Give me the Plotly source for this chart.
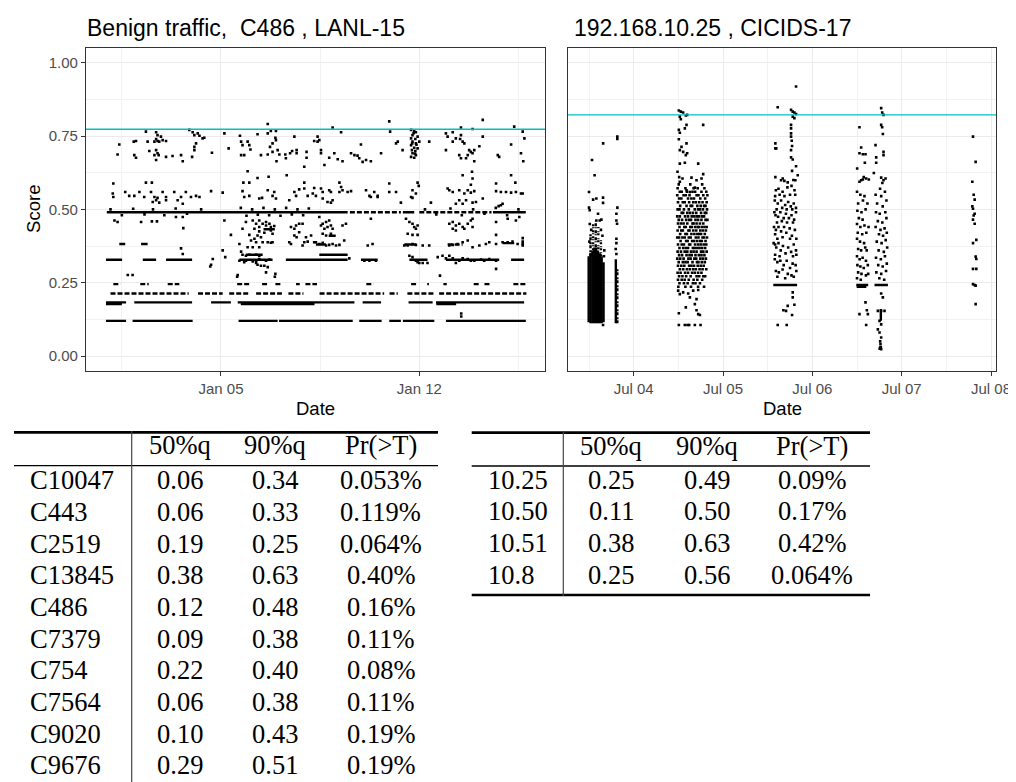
import plotly.graph_objects as go
import pandas as pd

W, H = 1016, 782
PAGE_MARGIN = 8  # default body margin of the html page

# ---------------- DATA ----------------
LANL_START = pd.Timestamp("2015-01-01")   # day offsets below are days since this
CIC_START = pd.Timestamp("2017-07-03")    # hour offsets below are hours since this

lanl_title = "Benign traffic,\u00a0 C486 , LANL-15"
cic_title = "192.168.10.25 , CICIDS-17"
lanl_threshold = 0.773
cic_threshold = 0.822

score_ticks = [0.0, 0.25, 0.5, 0.75, 1.0]
score_ticktext = ["0.00", "0.25", "0.50", "0.75", "1.00"]
lanl_tick_days = [4, 11]
lanl_ticktext = ["Jan 05", "Jan 12"]
cic_tick_hours = [24, 48, 72, 96, 120]
cic_ticktext = ["Jul 04", "Jul 05", "Jul 06", "Jul 07", "Jul 08"]

# dense horizontal runs of points: (start day, end day, score)
lanl_solid_runs = [
    (-0.06, 0.65, 0.12), (0.88, 3.0, 0.12), (4.62, 6.0, 0.12), (6.05, 8.65, 0.12),
    (8.88, 9.67, 0.12), (9.94, 10.35, 0.12), (10.42, 11.53, 0.12), (11.94, 14.76, 0.12),
    (-0.06, 0.65, 0.183), (0.94, 2.98, 0.183), (3.65, 4.35, 0.183), (4.59, 8.71, 0.183),
    (9.0, 9.65, 0.183), (10.62, 11.47, 0.183), (11.59, 14.70, 0.183),
    (-0.06, 0.5, 0.177), (4.7, 7.3, 0.177), (11.6, 12.3, 0.177),
    (-0.06, 0.51, 0.328), (1.24, 1.71, 0.328), (2.06, 2.98, 0.328), (4.65, 5.82, 0.328),
    (6.29, 8.47, 0.328), (8.94, 9.53, 0.328), (10.65, 11.29, 0.328), (11.94, 13.82, 0.328),
    (14.24, 14.70, 0.328),
    (4.88, 5.47, 0.345), (7.47, 8.47, 0.345),
    (0.41, 0.62, 0.382), (1.18, 1.41, 0.382), (7.35, 7.71, 0.38), (10.47, 10.88, 0.38),
    (13.94, 14.35, 0.385), (5.5, 5.9, 0.432), (7.8, 8.05, 0.41),
    (-0.03, 8.47, 0.49), (10.42, 10.82, 0.49), (13.6, 14.76, 0.49),
]
lanl_dashed_runs = [
    (0.10, 2.86, 0.213), (3.19, 4.06, 0.213), (4.29, 5.01, 0.213), (5.24, 6.15, 0.213),
    (6.38, 6.91, 0.213), (7.48, 9.76, 0.213), (9.95, 10.24, 0.213), (10.58, 11.53, 0.213),
    (11.70, 14.78, 0.213),
    (0.20, 0.45, 0.245), (1.15, 1.45, 0.245), (2.12, 2.53, 0.245), (4.57, 5.0, 0.245),
    (5.45, 5.65, 0.245), (5.92, 6.12, 0.245), (6.65, 6.78, 0.245), (6.98, 7.39, 0.245),
    (9.13, 9.38, 0.245), (10.71, 10.90, 0.245), (11.28, 11.34, 0.245), (11.85, 11.97, 0.245),
    (12.92, 13.11, 0.245), (13.30, 13.49, 0.245), (14.32, 14.76, 0.245),
    (8.55, 10.35, 0.49), (11.0, 13.55, 0.49), (12.0, 12.53, 0.38),
]
# individual points: (day, score)
lanl_points_high = [
    (5.65, 0.791), (1.35, 0.765), (1.71, 0.763), (1.76, 0.753), (1.88, 0.748), (1.71, 0.74),
    (1.76, 0.733), (1.65, 0.731), (1.82, 0.731), (1.94, 0.736), (2.06, 0.733), (1.0, 0.733),
    (0.92, 0.731), (0.41, 0.721), (1.41, 0.731), (1.47, 0.699), (1.71, 0.702), (1.76, 0.691),
    (1.65, 0.685), (1.80, 0.685), (1.71, 0.668), (0.35, 0.687), (0.94, 0.685), (1.0, 0.676),
    (2.06, 0.679), (2.29, 0.682), (2.59, 0.685), (2.65, 0.664), (2.88, 0.771), (3.0, 0.763),
    (3.06, 0.753), (3.18, 0.759), (3.24, 0.751), (3.35, 0.742), (3.41, 0.744), (3.12, 0.725),
    (3.06, 0.713), (2.98, 0.679), (3.06, 0.702), (3.68, 0.693), (4.12, 0.759), (4.27, 0.708),
    (4.67, 0.751), (4.71, 0.731), (4.76, 0.719), (4.94, 0.731), (5.0, 0.719), (5.04, 0.704),
    (4.71, 0.685), (4.82, 0.685), (5.29, 0.756), (5.65, 0.759), (5.76, 0.767), (5.94, 0.767),
    (5.92, 0.744), (5.94, 0.736), (5.82, 0.725), (5.73, 0.713), (5.82, 0.696), (5.65, 0.687),
    (5.41, 0.685), (6.0, 0.702), (6.06, 0.687), (5.96, 0.664), (6.27, 0.687), (6.44, 0.691),
    (6.51, 0.699), (6.29, 0.674), (6.67, 0.702), (6.67, 0.691), (7.02, 0.696), (6.59, 0.748),
    (7.02, 0.676), (6.94, 0.645), (7.29, 0.733),
    (7.94, 0.779), (8.24, 0.763), (9.94, 0.80), (9.97, 0.765), (7.41, 0.748), (7.47, 0.736),
    (7.41, 0.731), (7.53, 0.702), (7.53, 0.691), (7.65, 0.651), (7.82, 0.676), (8.0, 0.691),
    (8.12, 0.671), (8.29, 0.664), (8.59, 0.691), (8.71, 0.685), (8.82, 0.683), (8.88, 0.674),
    (9.0, 0.662), (9.12, 0.668), (9.29, 0.664), (9.65, 0.691), (8.94, 0.721), (10.18, 0.725),
    (10.24, 0.731), (10.41, 0.702), (10.71, 0.771), (10.82, 0.767), (10.88, 0.763),
    (10.76, 0.753), (10.71, 0.742), (10.86, 0.74), (10.76, 0.731), (10.88, 0.725),
    (10.71, 0.719), (10.82, 0.71), (10.94, 0.708), (10.74, 0.702), (10.86, 0.699),
    (10.76, 0.691), (10.88, 0.685), (10.71, 0.679), (10.82, 0.676), (10.94, 0.748),
    (11.0, 0.731), (10.8, 0.76), (10.9, 0.72), (10.75, 0.725), (10.85, 0.69), (11.35, 0.731),
    (11.94, 0.759), (12.0, 0.748), (12.18, 0.763), (12.18, 0.731), (12.29, 0.742),
    (12.47, 0.779), (12.47, 0.753), (12.53, 0.731), (12.44, 0.74), (12.59, 0.725),
    (12.88, 0.774), (13.24, 0.805), (13.24, 0.748), (13.12, 0.715), (12.76, 0.702),
    (12.82, 0.696), (12.88, 0.691), (12.94, 0.702), (12.71, 0.685), (11.94, 0.702),
    (12.41, 0.685), (12.47, 0.674), (12.65, 0.674), (12.94, 0.664), (13.77, 0.685),
    (13.82, 0.679), (14.24, 0.721), (14.35, 0.782), (14.65, 0.765), (14.71, 0.742),
    (14.59, 0.691), (14.67, 0.664),
]
lanl_points_mid = [
    (4.94, 0.63), (5.29, 0.607), (5.68, 0.611), (6.32, 0.616), (0.2, 0.588), (1.35, 0.591),
    (1.56, 0.591), (4.79, 0.591), (5.0, 0.591), (6.94, 0.591), (7.29, 0.573), (0.18, 0.554),
    (0.2, 0.542), (0.62, 0.559), (0.76, 0.546), (0.94, 0.546), (1.12, 0.559), (1.29, 0.542),
    (1.53, 0.559), (1.65, 0.542), (1.76, 0.539), (1.94, 0.559), (2.06, 0.542), (2.35, 0.559),
    (2.59, 0.542), (2.76, 0.559), (2.94, 0.542), (3.12, 0.546), (3.24, 0.542), (3.65, 0.562),
    (4.06, 0.557), (4.76, 0.562), (4.82, 0.542), (5.0, 0.546), (5.35, 0.537), (5.45, 0.539),
    (5.65, 0.565), (5.82, 0.546), (5.94, 0.537), (5.88, 0.559), (6.41, 0.531), (6.59, 0.559),
    (6.65, 0.546), (6.76, 0.568), (6.94, 0.571), (7.06, 0.546), (7.24, 0.554), (7.35, 0.546),
    (1.59, 0.525), (1.71, 0.531), (1.82, 0.523), (2.06, 0.531), (2.47, 0.531), (2.65, 0.519),
    (8.18, 0.591), (8.24, 0.576), (9.94, 0.588), (10.94, 0.591), (10.98, 0.58), (12.53, 0.616),
    (12.86, 0.628), (12.88, 0.605), (12.82, 0.584), (14.24, 0.616), (14.39, 0.591),
    (13.71, 0.588), (13.24, 0.537), (7.53, 0.571), (7.59, 0.559), (7.82, 0.565), (7.88, 0.559),
    (8.18, 0.559), (8.29, 0.565), (8.47, 0.559), (8.59, 0.562), (9.12, 0.565), (9.24, 0.546),
    (9.41, 0.559), (9.53, 0.546), (9.94, 0.559), (10.18, 0.559), (10.76, 0.565),
    (10.88, 0.554), (12.0, 0.571), (12.06, 0.565), (12.18, 0.559), (12.41, 0.565),
    (12.59, 0.554), (12.71, 0.565), (12.82, 0.557), (12.94, 0.562), (13.71, 0.562),
    (13.88, 0.559), (14.06, 0.559), (14.24, 0.557), (14.41, 0.559), (14.59, 0.554),
    (14.65, 0.554), (7.59, 0.537), (7.76, 0.525), (7.88, 0.523), (7.94, 0.531), (9.29, 0.542),
    (9.53, 0.542), (10.35, 0.523), (10.71, 0.542), (10.76, 0.539), (11.41, 0.523),
    (12.29, 0.519), (12.41, 0.531), (12.53, 0.519), (12.65, 0.531), (12.88, 0.523),
    (13.0, 0.525), (13.94, 0.519), (13.88, 0.514), (13.8, 0.511),
    (0.1, 0.50), (0.5, 0.48), (0.9, 0.502), (1.3, 0.483), (1.6, 0.50), (2.0, 0.48),
    (2.4, 0.503), (2.8, 0.485), (3.3, 0.50), (4.7, 0.505), (4.9, 0.478), (5.1, 0.50),
    (5.3, 0.482), (5.5, 0.505), (5.7, 0.48), (5.9, 0.50), (6.1, 0.478), (6.3, 0.505),
    (6.5, 0.483), (6.7, 0.50), (6.9, 0.48), (7.1, 0.503), (11.2, 0.50), (11.6, 0.483),
    (12.1, 0.503), (12.5, 0.48), (12.9, 0.50), (13.3, 0.485), (13.7, 0.505), (14.1, 0.48),
    (14.5, 0.50),
]
lanl_points_low = [
    (0.24, 0.462), (0.35, 0.457), (1.18, 0.457), (1.56, 0.459), (1.74, 0.459), (2.41, 0.474),
    (2.65, 0.474), (2.67, 0.436), (4.12, 0.462), (4.35, 0.413), (4.88, 0.457), (5.12, 0.462),
    (5.24, 0.451), (5.35, 0.462), (5.35, 0.44), (5.47, 0.451), (5.59, 0.457), (5.71, 0.451),
    (4.76, 0.434), (5.59, 0.445), (5.76, 0.44), (5.88, 0.443), (5.18, 0.434), (5.35, 0.425),
    (5.53, 0.42), (5.76, 0.428), (5.82, 0.417), (6.47, 0.44), (6.59, 0.434), (6.65, 0.445),
    (6.76, 0.451), (6.88, 0.451), (6.76, 0.422), (6.59, 0.411), (6.67, 0.405), (7.0, 0.405),
    (7.18, 0.411), (5.0, 0.413), (5.06, 0.394), (5.18, 0.40), (5.24, 0.388), (5.35, 0.371),
    (5.12, 0.371), (4.94, 0.371), (5.29, 0.411), (5.41, 0.405), (4.65, 0.382), (4.71, 0.356),
    (5.47, 0.388), (5.65, 0.388), (5.76, 0.386), (5.82, 0.388), (6.41, 0.388), (6.47, 0.382),
    (6.88, 0.377), (6.94, 0.388), (7.06, 0.39), (7.29, 0.388), (4.76, 0.345), (4.88, 0.342),
    (5.0, 0.345), (5.24, 0.345), (5.35, 0.342), (4.65, 0.325), (4.82, 0.32), (4.88, 0.325),
    (5.12, 0.322), (5.24, 0.325), (5.35, 0.331), (5.59, 0.325), (5.71, 0.329), (4.15, 0.337),
    (3.71, 0.331), (3.65, 0.311), (2.59, 0.367), (2.65, 0.348), (5.24, 0.317), (5.29, 0.311),
    (5.41, 0.308), (5.53, 0.308), (5.59, 0.285), (5.65, 0.303), (5.92, 0.28), (4.59, 0.276),
    (0.71, 0.276), (0.88, 0.276), (3.62, 0.305), (4.06, 0.36), (12.48, 0.145), (12.48, 0.135),
    (4.57, 0.27), (5.9, 0.27),
    (7.47, 0.474), (7.59, 0.451), (7.71, 0.457), (7.82, 0.462), (7.88, 0.445), (7.76, 0.44),
    (7.65, 0.434), (7.53, 0.445), (7.94, 0.434), (8.29, 0.445), (8.41, 0.451), (7.59, 0.417),
    (7.71, 0.411), (7.88, 0.417), (9.29, 0.468), (10.53, 0.468), (10.65, 0.457),
    (10.76, 0.451), (10.82, 0.44), (10.88, 0.434), (10.94, 0.445), (10.59, 0.417),
    (10.76, 0.413), (10.94, 0.413), (12.06, 0.451), (12.18, 0.457), (12.29, 0.445),
    (12.41, 0.451), (12.53, 0.44), (12.59, 0.434), (12.71, 0.451), (12.82, 0.462),
    (12.88, 0.44), (12.18, 0.434), (12.29, 0.428), (12.88, 0.468), (13.71, 0.457),
    (14.12, 0.468), (14.41, 0.462), (14.53, 0.474), (13.71, 0.413), (14.65, 0.402),
    (14.65, 0.39), (14.65, 0.377), (7.35, 0.388), (7.47, 0.382), (7.59, 0.386), (7.71, 0.377),
    (7.82, 0.379), (7.94, 0.382), (8.06, 0.377), (8.18, 0.379), (8.35, 0.394), (9.18, 0.377),
    (9.35, 0.382), (10.47, 0.377), (10.59, 0.377), (10.76, 0.382), (10.88, 0.379),
    (11.12, 0.377), (11.35, 0.377), (12.06, 0.377), (12.18, 0.379), (12.35, 0.382),
    (12.53, 0.388), (12.71, 0.394), (12.88, 0.371), (13.12, 0.377), (13.35, 0.382),
    (13.47, 0.388), (13.71, 0.382), (13.94, 0.388), (14.12, 0.388), (14.29, 0.39),
    (14.47, 0.382), (14.65, 0.382), (8.53, 0.333), (9.06, 0.325), (9.24, 0.325),
    (9.47, 0.325), (10.65, 0.342), (10.76, 0.337), (10.88, 0.325), (10.94, 0.32),
    (11.0, 0.317), (11.12, 0.317), (11.29, 0.317), (11.65, 0.337), (11.82, 0.342),
    (11.94, 0.333), (12.06, 0.342), (12.18, 0.333), (12.29, 0.317), (12.41, 0.325),
    (12.53, 0.333), (12.71, 0.331), (12.82, 0.325), (12.94, 0.325), (13.18, 0.329),
    (13.29, 0.325), (13.47, 0.331), (13.71, 0.325), (13.71, 0.297), (11.73, 0.274),
]

# CICIDS: dense vertical runs (hour, low score, high score)
cic_solid_vruns = [
    (11.9, 0.115, 0.34), (12.4, 0.112, 0.35), (12.9, 0.112, 0.36), (13.4, 0.112, 0.37),
    (13.9, 0.112, 0.37), (14.4, 0.112, 0.36), (14.9, 0.112, 0.35), (15.4, 0.112, 0.34),
    (15.9, 0.115, 0.32), (19.2, 0.112, 0.33), (90.4, 0.12, 0.16),
]
cic_dotted_vruns = [
    (12.4, 0.34, 0.42), (13.1, 0.34, 0.45), (13.8, 0.34, 0.46), (14.5, 0.34, 0.44),
    (15.2, 0.33, 0.40), (19.6, 0.112, 0.30),
]
# CICIDS: dense horizontal runs (start hour, end hour, score)
cic_hruns = [(61.5, 67.9, 0.242), (83.8, 87.0, 0.242), (83.9, 86.5, 0.236), (88.7, 92.3, 0.242)]
# CICIDS Tuesday core, read row by row: score -> hours of the points on that row
cic_tue_core_rows = {
    0.585: [36.1, 39.2, 42.4],
    0.572: [35.8, 37.9, 40.1, 41.2, 43.0],
    0.56: [36.4, 36.9, 38.3, 39.8, 40.5, 42.2, 43.5],
    0.548: [35.7, 37.4, 38.0, 39.0, 40.9, 41.4, 42.7, 43.8],
    0.537: [36.2, 36.8, 38.6, 39.5, 40.2, 41.9, 43.2],
    0.524: [35.9, 37.2, 37.7, 38.9, 40.0, 40.7, 41.6, 42.5, 43.6],
    0.512: [36.5, 38.2, 39.3, 39.7, 41.1, 42.0, 42.9, 43.3],
    0.50: [35.8, 36.3, 37.5, 38.8, 40.4, 41.3, 41.8, 42.6, 43.7],
    0.488: [36.9, 37.3, 38.4, 39.1, 39.9, 40.8, 42.1, 43.1, 43.5],
    0.476: [35.7, 36.4, 37.8, 38.6, 39.6, 40.3, 41.0, 41.6, 42.4, 42.9],
    0.464: [36.1, 37.0, 38.1, 38.9, 39.4, 40.6, 41.3, 42.2, 43.3, 43.8],
    0.452: [35.9, 36.7, 37.4, 38.4, 39.8, 40.1, 40.9, 41.8, 42.7],
    0.44: [36.3, 37.6, 38.0, 39.2, 39.6, 40.5, 41.2, 41.5, 42.3, 43.0, 43.6],
    0.428: [35.8, 36.8, 37.2, 38.7, 39.0, 40.0, 40.8, 41.9, 42.6, 43.4],
    0.416: [36.5, 37.9, 38.3, 39.5, 40.3, 41.1, 41.6, 42.1, 43.1],
    0.404: [35.7, 36.2, 37.1, 37.7, 38.8, 39.3, 40.7, 41.4, 42.5, 42.9, 43.7],
    0.392: [36.6, 38.1, 38.5, 39.7, 40.2, 41.0, 41.8, 42.3, 43.3],
    0.38: [35.9, 36.9, 37.5, 38.9, 39.2, 40.5, 41.3, 42.0, 42.8, 43.5],
    0.368: [36.3, 37.3, 38.0, 38.6, 39.9, 40.4, 41.1, 41.7, 42.4, 43.2],
    0.356: [35.8, 36.7, 37.7, 38.4, 39.4, 40.1, 40.9, 42.1, 42.7, 43.6],
    0.344: [36.2, 37.0, 38.2, 39.0, 39.6, 40.6, 41.5, 42.2, 43.0],
    0.332: [35.7, 36.5, 37.4, 38.7, 39.3, 40.3, 40.8, 41.9, 42.6, 43.4],
    0.32: [36.1, 37.2, 37.9, 38.5, 39.8, 41.0, 41.4, 42.3, 43.1],
    0.308: [35.9, 36.8, 37.6, 38.9, 39.5, 40.2, 41.2, 42.0, 42.8],
    0.296: [36.4, 37.3, 38.3, 39.1, 40.0, 40.7, 41.7, 42.5, 43.5],
    0.284: [35.8, 36.6, 37.8, 38.6, 39.7, 40.4, 41.3, 42.2],
    0.272: [36.2, 37.1, 38.1, 39.3, 40.9, 41.6, 42.7, 43.2],
    0.26: [35.9, 36.9, 37.7, 38.8, 40.1, 41.1, 42.4],
    0.248: [36.3, 37.5, 38.5, 39.9, 40.6, 41.8],
    0.236: [36.0, 37.9, 39.4, 41.3, 42.9],
}
# CICIDS individual points: (hour, score)
cic_points_mon_tue = [
    (15.8, 0.725), (19.6, 0.748), (19.6, 0.74), (12.8, 0.668), (13.5, 0.616), (12.0, 0.559),
    (13.1, 0.533), (13.97, 0.537), (15.77, 0.54), (15.77, 0.522), (12.0, 0.506), (12.18, 0.497),
    (14.42, 0.485), (15.32, 0.465), (14.87, 0.462), (13.97, 0.462), (19.62, 0.506),
    (19.35, 0.485), (19.35, 0.462), (19.53, 0.451), (19.35, 0.40), (19.35, 0.385),
    (19.17, 0.365), (19.35, 0.348), (15.77, 0.106), (12.2, 0.45), (12.6, 0.43), (15.2, 0.43),
    (15.6, 0.41), (12.1, 0.39), (16.1, 0.36), (16.0, 0.34),
    (36.13, 0.837), (36.66, 0.833), (37.29, 0.83), (38.0, 0.82), (38.37, 0.822), (36.39, 0.816),
    (36.66, 0.807), (42.67, 0.788), (38.19, 0.788), (37.74, 0.776), (36.13, 0.771),
    (36.39, 0.761), (36.13, 0.739), (38.19, 0.725), (36.84, 0.713), (36.39, 0.702),
    (37.29, 0.696), (38.0, 0.685), (38.37, 0.691), (36.39, 0.656), (37.74, 0.659),
    (41.33, 0.656), (35.77, 0.628), (36.22, 0.61), (36.39, 0.594), (37.11, 0.605),
    (39.53, 0.608), (40.88, 0.599), (42.22, 0.605), (42.67, 0.62), (38.19, 0.565),
    (39.09, 0.559), (40.43, 0.574), (35.95, 0.223), (36.39, 0.211), (37.29, 0.217),
    (38.64, 0.213), (39.98, 0.223), (41.33, 0.225), (39.09, 0.20), (40.88, 0.194),
    (40.43, 0.177), (38.0, 0.166), (40.88, 0.156), (41.33, 0.143), (36.13, 0.146),
    (41.78, 0.14), (36.13, 0.106), (37.74, 0.106), (38.46, 0.106), (38.91, 0.106),
    (40.43, 0.106), (41.96, 0.106),
]
cic_points_wed = [
    (67.62, 0.919), (62.69, 0.848), (66.28, 0.839), (66.73, 0.833), (67.17, 0.83), (67.62, 0.825),
    (66.73, 0.816), (67.17, 0.811), (66.28, 0.788), (66.28, 0.776), (66.28, 0.759),
    (66.28, 0.748), (66.46, 0.734), (66.55, 0.716), (66.28, 0.702), (62.06, 0.725),
    (62.06, 0.708), (62.3, 0.708), (66.28, 0.677), (66.73, 0.67), (67.62, 0.647),
    (66.55, 0.631), (68.07, 0.616), (67.44, 0.599), (62.06, 0.61), (63.59, 0.599),
    (64.48, 0.597), (64.04, 0.605), (65.38, 0.592), (66.9, 0.6),
    (62.2, 0.565), (62.9, 0.57), (64.0, 0.56), (65.3, 0.575), (66.4, 0.58), (67.2, 0.565),
    (62.0, 0.545), (63.2, 0.55), (64.5, 0.545), (66.0, 0.55), (67.4, 0.55), (61.9, 0.53),
    (62.7, 0.52), (63.6, 0.53), (64.7, 0.515), (65.5, 0.525), (66.2, 0.51), (67.0, 0.52),
    (67.6, 0.505), (62.4, 0.50), (63.9, 0.505), (65.1, 0.50), (66.6, 0.50), (61.8, 0.49),
    (62.1, 0.48), (62.8, 0.475), (63.4, 0.49), (64.3, 0.47), (64.9, 0.485), (65.7, 0.47),
    (66.4, 0.48), (67.1, 0.465), (67.6, 0.49), (62.5, 0.455), (63.8, 0.46), (65.2, 0.455),
    (66.8, 0.455), (61.7, 0.44), (62.2, 0.43), (62.0, 0.415), (62.9, 0.44), (63.6, 0.425),
    (64.4, 0.44), (65.0, 0.42), (65.9, 0.435), (66.5, 0.41), (67.3, 0.43), (67.7, 0.40),
    (62.6, 0.40), (64.0, 0.405), (66.0, 0.40), (61.6, 0.385), (62.0, 0.38), (62.3, 0.37),
    (62.9, 0.385), (63.5, 0.36), (64.1, 0.375), (64.8, 0.35), (65.5, 0.37), (66.3, 0.355),
    (67.0, 0.38), (67.6, 0.36), (62.0, 0.345), (63.2, 0.34), (66.8, 0.34), (67.7, 0.345),
    (61.9, 0.33), (62.6, 0.32), (63.4, 0.325), (64.3, 0.31), (65.1, 0.325), (66.0, 0.30),
    (66.7, 0.315), (67.5, 0.31), (62.2, 0.29), (63.0, 0.285), (64.0, 0.295), (65.4, 0.28),
    (66.4, 0.275), (67.7, 0.29), (62.6, 0.27), (64.7, 0.265), (67.0, 0.27),
    (66.73, 0.217), (66.73, 0.20), (65.38, 0.171), (67.17, 0.175), (64.22, 0.156),
    (64.93, 0.154), (66.55, 0.14), (62.69, 0.106), (65.11, 0.106),
]
cic_points_thu_fri = [
    (90.49, 0.845), (90.76, 0.83), (91.12, 0.822), (90.49, 0.788), (90.76, 0.78), (90.94, 0.757),
    (84.66, 0.78), (88.97, 0.719), (85.11, 0.711), (84.66, 0.691), (85.56, 0.688),
    (86.28, 0.688), (86.1, 0.659), (89.15, 0.677), (89.15, 0.659), (91.12, 0.696),
    (91.12, 0.685), (84.04, 0.639), (88.52, 0.624), (84.66, 0.594), (85.11, 0.599),
    (85.56, 0.602), (86.46, 0.605), (87.17, 0.602), (85.8, 0.61), (90.49, 0.608),
    (91.12, 0.599), (91.66, 0.605), (90.8, 0.59),
    (84.0, 0.56), (84.9, 0.55), (86.0, 0.545), (84.3, 0.52), (85.6, 0.53), (86.8, 0.52),
    (84.1, 0.495), (85.2, 0.49), (86.3, 0.50), (84.5, 0.47), (85.5, 0.465), (84.0, 0.45),
    (84.9, 0.44), (86.0, 0.445), (84.2, 0.42), (85.4, 0.415), (86.5, 0.42), (84.0, 0.40),
    (84.8, 0.39), (85.9, 0.385), (84.3, 0.365), (85.1, 0.36), (86.2, 0.37), (84.0, 0.34),
    (84.7, 0.33), (85.5, 0.335), (86.4, 0.325), (84.1, 0.31), (84.9, 0.305), (85.8, 0.30),
    (86.9, 0.31), (84.3, 0.285), (85.2, 0.28), (86.4, 0.275), (84.0, 0.265), (85.0, 0.26),
    (87.0, 0.28), (86.6, 0.36), (87.1, 0.44),
    (90.2, 0.57), (91.5, 0.56), (89.0, 0.55), (90.5, 0.545), (91.9, 0.53), (89.4, 0.52),
    (90.9, 0.51), (89.1, 0.49), (90.1, 0.485), (91.6, 0.49), (89.6, 0.46), (90.8, 0.455),
    (91.9, 0.47), (89.0, 0.44), (90.3, 0.43), (91.4, 0.435), (89.9, 0.415), (91.0, 0.41),
    (92.0, 0.42), (89.3, 0.39), (90.6, 0.385), (91.7, 0.395), (89.8, 0.36), (91.2, 0.355),
    (92.1, 0.37), (89.1, 0.335), (90.4, 0.33), (91.5, 0.34), (89.7, 0.31), (90.9, 0.305),
    (92.0, 0.315), (89.2, 0.285), (90.5, 0.28), (91.8, 0.29), (90.0, 0.265), (91.3, 0.26),
    (90.49, 0.213), (90.94, 0.20), (89.6, 0.154), (90.49, 0.154), (91.39, 0.154),
    (90.04, 0.12), (90.49, 0.108), (89.6, 0.091), (90.04, 0.08), (90.49, 0.063),
    (90.22, 0.05), (90.3, 0.04), (90.22, 0.029), (90.49, 0.023), (90.1, 0.025), (90.4, 0.03),
    (86.28, 0.183), (84.66, 0.143), (86.64, 0.156), (86.91, 0.143), (86.46, 0.106),
    (115.16, 0.748), (115.87, 0.662), (114.98, 0.594), (115.34, 0.55), (115.61, 0.533),
    (114.98, 0.51), (115.16, 0.502), (115.34, 0.479), (115.61, 0.485), (115.16, 0.465),
    (115.61, 0.451), (116.05, 0.396), (115.16, 0.385), (115.87, 0.339), (116.05, 0.331),
    (115.16, 0.297), (116.05, 0.297), (115.16, 0.245), (115.61, 0.242), (115.87, 0.24),
    (115.87, 0.177),
]

table_header = ["50%q", "90%q", "Pr(&gt;T)"]
table1_rows = ["C10047", "C443", "C2519", "C13845", "C486", "C7379", "C754", "C7564", "C9020", "C9676"]
table1_q50 = ["0.06", "0.06", "0.19", "0.38", "0.12", "0.09", "0.22", "0.06", "0.10", "0.29"]
table1_q90 = ["0.34", "0.33", "0.25", "0.63", "0.48", "0.38", "0.40", "0.38", "0.43", "0.51"]
table1_pr = ["0.053%", "0.119%", "0.064%", "0.40%", "0.16%", "0.11%", "0.08%", "0.11%", "0.19%", "0.19%"]

table2_rows = ["10.25", "10.50", "10.51", "10.8"]
table2_q50 = ["0.25", "0.11", "0.38", "0.25"]
table2_q90 = ["0.49", "0.50", "0.63", "0.56"]
table2_pr = ["0.09%", "0.17%", "0.42%", "0.064%"]


# ---------------- HELPERS ----------------
def lanl_t(d):
    return LANL_START + pd.Timedelta(days=d)


def cic_t(h):
    return CIC_START + pd.Timedelta(hours=h)


def px(x):
    return (x - PAGE_MARGIN) / W


def py(y):
    return 1 - (y - PAGE_MARGIN) / H


def hrun_xy(runs, tf):
    xs, ys = [], []
    for a, b, s in runs:
        xs += [tf(a), tf(b), None]
        ys += [s, s, None]
    return xs, ys


def vrun_xy(runs, tf):
    xs, ys = [], []
    for t, lo, hi in runs:
        xs += [tf(t), tf(t), None]
        ys += [lo, hi, None]
    return xs, ys


fig = go.Figure()
MARK = dict(symbol="square", size=2.6, color="black", line=dict(width=0))
RUNW = 2.4
SPECKLE = ["3px,1px,2px,2px", "2px,2px,1px,1px", "1px,1px,3px,2px", "2px,1px,1px,3px",
           "1px,2px,2px,1px"]


def add_lines(xs, ys, xa, ya, dash="solid"):
    fig.add_trace(go.Scatter(x=xs, y=ys, mode="lines", xaxis=xa, yaxis=ya,
                             line=dict(color="black", width=RUNW, dash=dash),
                             hoverinfo="skip", showlegend=False))


def add_points(pts, tf, xa, ya):
    fig.add_trace(go.Scatter(x=[tf(t) for t, _ in pts], y=[s for _, s in pts], mode="markers",
                             xaxis=xa, yaxis=ya, marker=MARK, hoverinfo="skip", showlegend=False))


# LANL panel
add_lines(*hrun_xy(lanl_solid_runs, lanl_t), "x", "y")
add_lines(*hrun_xy(lanl_dashed_runs, lanl_t), "x", "y", dash="5px,2px")
for pts in (lanl_points_high, lanl_points_mid, lanl_points_low):
    add_points(pts, lanl_t, "x", "y")

# CICIDS panel
add_lines(*vrun_xy(cic_solid_vruns, cic_t), "x2", "y2")
for i, run in enumerate(cic_dotted_vruns):
    add_lines(*vrun_xy([run], cic_t), "x2", "y2", dash=SPECKLE[i % len(SPECKLE)])
add_lines(*hrun_xy(cic_hruns, cic_t), "x2", "y2")
tue_core = [(h, s) for s, hours in cic_tue_core_rows.items() for h in hours]
for pts in (cic_points_mon_tue, tue_core, cic_points_wed, cic_points_thu_fri):
    add_points(pts, cic_t, "x2", "y2")

# ---------------- LAYOUT ----------------
TICKFONT = dict(family="Liberation Sans, Arial, sans-serif", size=15, color="#4D4D4D")
GRID = "#EBEBEB"
BORDER = "#333333"
ydom = [py(370.7), py(48)]

common_x = dict(showline=True, mirror=True, linecolor=BORDER, linewidth=1.1,
                ticks="outside", ticklen=4, tickwidth=1, tickcolor=BORDER,
                showgrid=True, gridcolor=GRID, gridwidth=1.1, zeroline=False,
                tickfont=TICKFONT, tickmode="array", automargin=False)

fig.update_layout(
    width=W, height=H, autosize=False,
    margin=dict(l=0, r=0, t=0, b=0),
    paper_bgcolor="white", plot_bgcolor="white",
    xaxis=dict(common_x, domain=[px(86), px(545)], anchor="y", type="date",
               range=[lanl_t(-0.765), lanl_t(15.437)],
               tickvals=[lanl_t(d) for d in lanl_tick_days], ticktext=lanl_ticktext,
               minor=dict(tick0=lanl_t(0.5), dtick=3.5 * 86400000, showgrid=True,
                          gridcolor="#F2F2F2", gridwidth=0.7, ticks="")),
    xaxis2=dict(common_x, domain=[px(568), px(996)], anchor="y2", type="date",
                range=[cic_t(6.35), cic_t(121.34)],
                tickvals=[cic_t(h) for h in cic_tick_hours], ticktext=cic_ticktext,
                minor=dict(tick0=cic_t(12), dtick=12 * 3600000, showgrid=True,
                           gridcolor="#F2F2F2", gridwidth=0.7, ticks="")),
    yaxis=dict(domain=ydom, anchor="x", range=[-0.05, 1.05], showline=True, mirror=True,
               linecolor=BORDER, linewidth=1.1, ticks="outside", ticklen=4, tickwidth=1,
               tickcolor=BORDER, showgrid=True, gridcolor=GRID, gridwidth=1.1, zeroline=False,
               tickmode="array", tickvals=score_ticks, ticktext=score_ticktext,
               tickfont=TICKFONT, automargin=False,
               minor=dict(tick0=0.125, dtick=0.25, showgrid=True, gridcolor="#F2F2F2",
                          gridwidth=0.7, ticks="")),
    yaxis2=dict(domain=ydom, anchor="x2", range=[-0.05, 1.05], showline=True, mirror=True,
                linecolor=BORDER, linewidth=1.1, ticks="", showticklabels=False,
                showgrid=True, gridcolor=GRID, gridwidth=1.1, zeroline=False,
                tickmode="array", tickvals=score_ticks, automargin=False,
                minor=dict(tick0=0.125, dtick=0.25, showgrid=True, gridcolor="#F2F2F2",
                           gridwidth=0.7, ticks="")),
)

shapes = [
    dict(type="line", xref="x domain", yref="y", x0=0, x1=1, y0=lanl_threshold,
         y1=lanl_threshold, line=dict(color="#00BFC4", width=1.3)),
    dict(type="line", xref="x2 domain", yref="y2", x0=0, x1=1, y0=cic_threshold,
         y1=cic_threshold, line=dict(color="#00BFC4", width=1.3)),
]

annotations = []
SANS = "Liberation Sans, Arial, sans-serif"
SERIF = "Liberation Serif, Times New Roman, serif"


def text(x, y, s, size, family, color="black", xanchor="center", angle=0):
    annotations.append(dict(x=px(x), y=py(y), xref="paper", yref="paper", text=s,
                            showarrow=False, xanchor=xanchor, yanchor="middle",
                            textangle=angle, font=dict(family=family, size=size, color=color)))


# titles and axis labels
text(85, 28.5, lanl_title, 23, SANS, xanchor="left")
text(572, 28.5, cic_title, 23, SANS, xanchor="left")
text(315.5, 408.5, "Date", 18.5, SANS)
text(782, 408.5, "Date", 18.5, SANS)
text(33.5, 209.4, "Score", 18.5, SANS, angle=-90)


def hline(x0, x1, y, w):
    shapes.append(dict(type="line", xref="paper", yref="paper", x0=px(x0), x1=px(x1),
                       y0=py(y), y1=py(y), line=dict(color="black", width=w)))


def vline(x, y0, y1, w):
    shapes.append(dict(type="line", xref="paper", yref="paper", x0=px(x), x1=px(x),
                       y0=py(y0), y1=py(y1), line=dict(color="#444444", width=w)))


TFS = 26.5
ROWSTEP = 31.67
# table 1
hline(14, 438, 432.4, 2.7)
hline(14, 438, 465.6, 1.3)
vline(131.7, 431, 790, 1.2)
t1_cols = [180, 275.3, 380.5]
for cx, h in zip(t1_cols, table_header):
    text(cx, 444.6, h, TFS, SERIF)
for i, name in enumerate(table1_rows):
    yy = 480.3 + ROWSTEP * i
    text(28, yy, name, TFS, SERIF, xanchor="left")
    for cx, col in zip(t1_cols, (table1_q50, table1_q90, table1_pr)):
        text(cx, yy, col[i], TFS, SERIF)

# table 2
hline(471.7, 870, 432.7, 2.7)
hline(471.7, 870, 466, 1.3)
hline(471.7, 870, 595, 2.7)
vline(563.3, 431.5, 596, 1.2)
t2_cols = [611, 707, 812]
for cx, h in zip(t2_cols, table_header):
    text(cx, 445.5, h, TFS, SERIF)
for i, name in enumerate(table2_rows):
    yy = 479.6 + ROWSTEP * i
    text(486, yy, name, TFS, SERIF, xanchor="left")
    for cx, col in zip(t2_cols, (table2_q50, table2_q90, table2_pr)):
        text(cx, yy, col[i], TFS, SERIF)

fig.update_layout(shapes=shapes, annotations=annotations)
fig.write_html("out.html")
